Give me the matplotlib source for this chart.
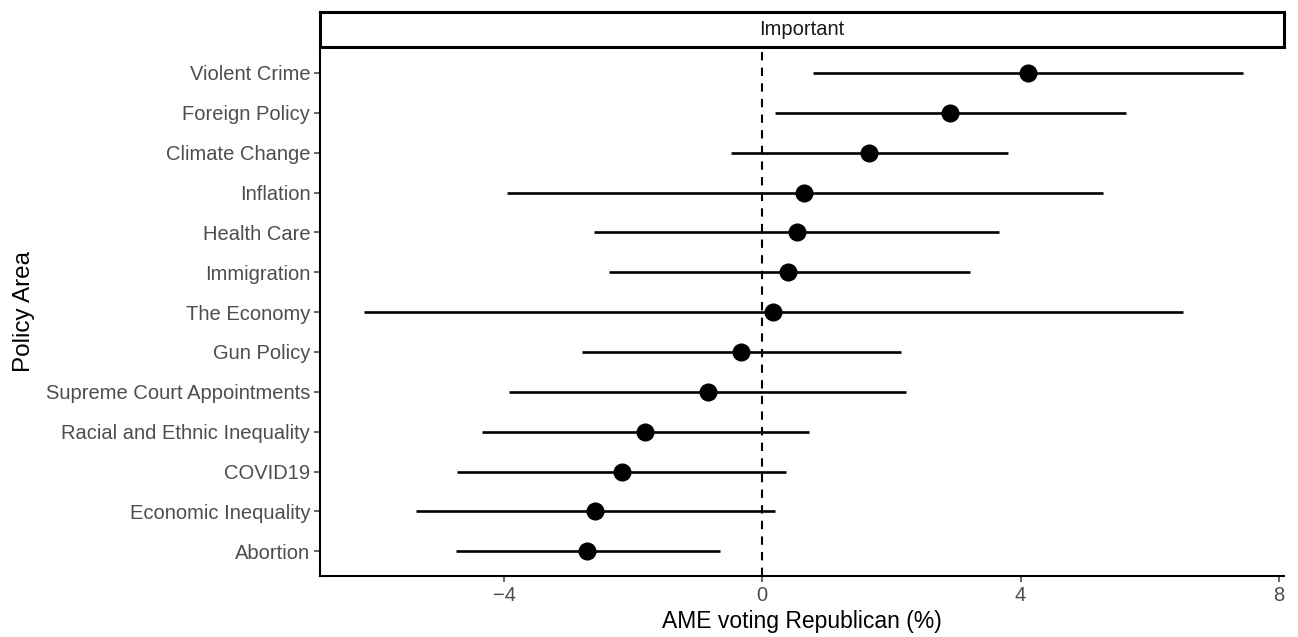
import matplotlib
matplotlib.use("Agg")
import matplotlib.pyplot as plt

categories = ["Violent Crime", "Foreign Policy", "Climate Change", "Inflation",
              "Health Care", "Immigration", "The Economy", "Gun Policy",
              "Supreme Court Appointments", "Racial and Ethnic Inequality",
              "COVID19", "Economic Inequality", "Abortion"]
estimates = [4.11, 2.90, 1.66, 0.65, 0.53, 0.40, 0.16, -0.33, -0.84, -1.81, -2.18, -2.59, -2.71]
lower = [0.79, 0.19, -0.48, -3.96, -2.61, -2.38, -6.17, -2.80, -3.92, -4.34, -4.73, -5.37, -4.74]
upper = [7.44, 5.63, 3.81, 5.28, 3.67, 3.21, 6.51, 2.15, 2.23, 0.72, 0.36, 0.19, -0.66]
xticks = [-4, 0, 4, 8]
xtick_labels = ["\u22124", "0", "4", "8"]
panel_label = "Important"

plt.rcParams['font.family'] = ['Liberation Sans', 'DejaVu Sans']

W, H = 1298, 637
fig = plt.figure(figsize=(W / 100, H / 100), dpi=100)
left, right, top, bottom = 320, 1284, 47, 576
ax = fig.add_axes([left / W, 1 - bottom / H, (right - left) / W, (bottom - top) / H])

n = len(categories)
ys = list(range(n, 0, -1))
ax.axvline(0, color="black", lw=1.5, ls=(0, (4, 3.5)), zorder=1)
ax.hlines(ys, lower, upper, color="black", lw=1.9, zorder=2)
ax.plot(estimates, ys, "o", color="black", ms=12, zorder=3)

ax.set_xlim(-6.85, 8.08)
ax.set_ylim(0.38, n + 0.65)
ax.set_yticks(ys)
ax.set_yticklabels(categories)
ax.set_xticks(xticks)
ax.set_xticklabels(xtick_labels)
ax.tick_params(axis="both", colors="#4D4D4D", labelsize=14.5, length=4, width=1.2, direction="out", pad=3)
for s in ["top", "right"]:
    ax.spines[s].set_visible(False)
for s in ["left", "bottom"]:
    ax.spines[s].set_linewidth(1.5)
    ax.spines[s].set_color("black")
ax.set_xlabel("AME voting Republican (%)", fontsize=16.5, labelpad=4)
ax.set_ylabel("Policy Area", fontsize=17.5, labelpad=8)

# strip
sax = fig.add_axes([left / W, 1 - 47 / H, (right - left) / W, (47 - 12) / H])
sax.set_xticks([]); sax.set_yticks([])
for s in sax.spines.values():
    s.set_linewidth(2.2)
    s.set_color("black")
sax.text(0.5, 0.5, panel_label, ha="center", va="center", fontsize=14.5, color="#1A1A1A",
         transform=sax.transAxes)

fig.savefig("out.png", dpi=100)
